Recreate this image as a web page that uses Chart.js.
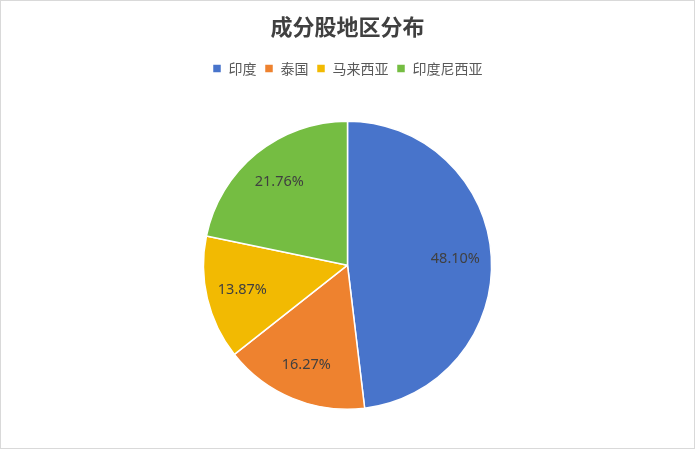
<!DOCTYPE html>
<html>
<head>
<meta charset="utf-8">
<script src="https://cdn.jsdelivr.net/npm/chart.js@4/dist/chart.umd.min.js"></script>
<style>
    html, body { margin: 0; padding: 0; background: #fff; }
    #wrap { width: 695px; height: 449px; box-sizing: border-box; border: 1px solid #d9d9d9; position: relative; }
</style>
</head>
<body>
<div id="wrap"><canvas id="chartRegion"></canvas></div>
<script>
const regions = ['印度', '泰国', '马来西亚', '印度尼西亚'];
const shares = [48.10, 16.27, 13.87, 21.76];
const colors = ['#4874CB', '#EE822F', '#F2BA02', '#75BD42'];

(function() {
    // percentage labels inside each slice
    const sliceLabels = {
        id: 'sliceLabels',
        afterDatasetsDraw: function(chart) {
            const ctx = chart.ctx;
            const meta = chart.getDatasetMeta(0);
            ctx.save();
            ctx.font = '14.5px "Noto Sans", "DejaVu Sans", sans-serif';
            ctx.fillStyle = '#404040';
            ctx.textAlign = 'center';
            ctx.textBaseline = 'middle';
            meta.data.forEach(function(arc, i) {
                const p = arc.getProps(['x', 'y', 'startAngle', 'endAngle', 'outerRadius'], true);
                const mid = (p.startAngle + p.endAngle) / 2;
                const r = p.outerRadius * 0.75;
                ctx.fillText(shares[i].toFixed(2) + '%', p.x + Math.cos(mid) * r, p.y + Math.sin(mid) * r);
            });
            ctx.restore();
        }
    };

    // extra room between legend and pie
    const legendGap = {
        id: 'legendGap',
        beforeInit: function(chart) {
            const fit = chart.legend.fit;
            chart.legend.fit = function() {
                fit.bind(chart.legend)();
                this.height += 35;
            };
        }
    };

    new Chart(document.getElementById('chartRegion'), {
        type: 'pie',
        data: {
            labels: regions,
            datasets: [{
                data: shares,
                backgroundColor: colors,
                borderColor: '#ffffff',
                borderWidth: 1.5
            }]
        },
        options: {
            responsive: true,
            maintainAspectRatio: false,
            animation: false,
            layout: { padding: { top: 0, bottom: 38 } },
            plugins: {
                title: {
                    display: true,
                    text: '成分股地区分布',
                    color: '#404040',
                    font: { family: '"Noto Sans CJK SC", sans-serif', size: 22, weight: 'bold' },
                    padding: { top: 12, bottom: 14 }
                },
                legend: {
                    position: 'top',
                    labels: {
                        color: '#595959',
                        boxWidth: 9,
                        boxHeight: 9,
                        padding: 8,
                        font: { family: '"Noto Sans CJK SC", sans-serif', size: 14 }
                    }
                },
                tooltip: { enabled: false }
            }
        },
        plugins: [sliceLabels, legendGap]
    });
})();
</script>
</body>
</html>
